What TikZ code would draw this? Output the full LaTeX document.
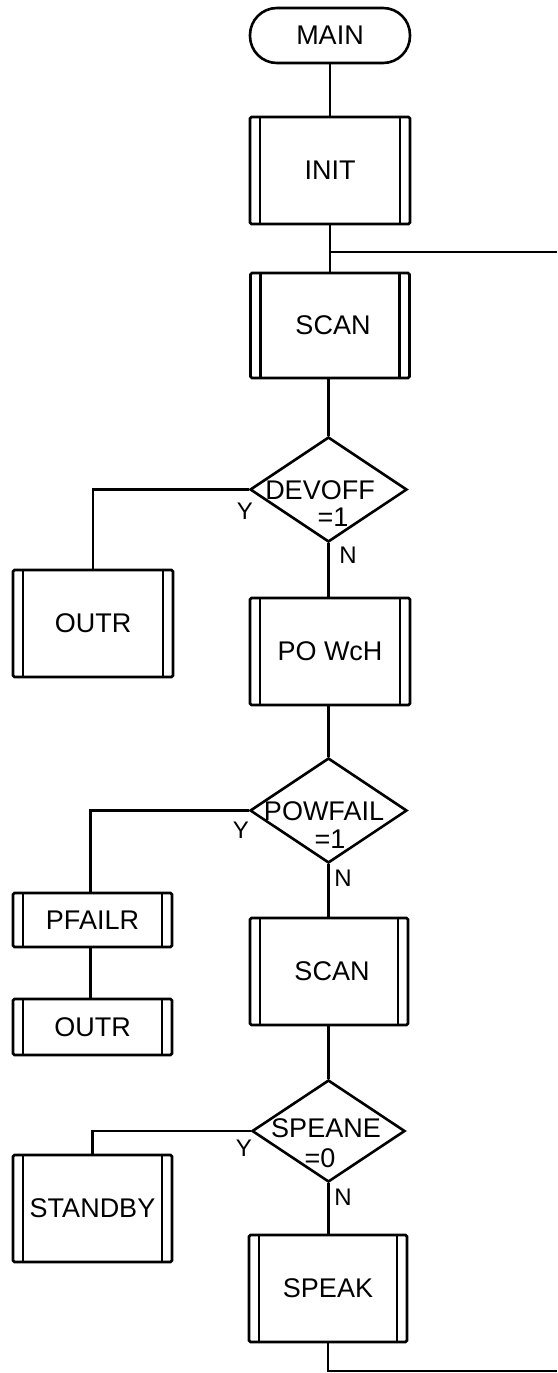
\documentclass[tikz,border=0pt]{standalone}
\usepackage{fontspec}
\setmainfont{Liberation Sans}
\usetikzlibrary{shapes.geometric}
\begin{document}
\begin{tikzpicture}[x=1pt,y=-1pt,
  line width=2.6pt,
  txt/.style={inner sep=0pt, font=\fontsize{27}{31}\selectfont},
  lbl/.style={inner sep=0pt, font=\fontsize{24}{28}\selectfont},
  proc/.style={draw, rectangle, rounded corners=1.5pt, inner sep=0pt,
    minimum width=159pt, minimum height=107pt,
    font=\fontsize{27}{31}\selectfont,
    path picture={
      \draw[line width=2.3pt] ([xshift=10pt]path picture bounding box.north west) -- ([xshift=10pt]path picture bounding box.south west);
      \draw[line width=2.3pt] ([xshift=-10pt]path picture bounding box.north east) -- ([xshift=-10pt]path picture bounding box.south east);}},
  term/.style={draw, rectangle, rounded corners=27pt, inner sep=0pt,
    minimum width=160pt, minimum height=55pt, font=\fontsize{27}{31}\selectfont},
  dec/.style={draw, diamond, inner sep=0pt, minimum width=157pt, minimum height=105pt}
]
\useasboundingbox (0,0) rectangle (557,1373);

% main column
\node[term] (main) at (330,35.5) {MAIN};
\node[proc, minimum width=160pt] (init) at (330,170.5) {INIT};
\node[proc, minimum height=105pt] (scan1) at (330,325.5) {\hspace{6pt}SCAN};
\node[dec] (d1) at (328.5,489.5) {};
\node[txt] (d1a) at (320,490) {DEVOFF};
\node[txt] (d1b) at (333,517) {=1};
\node[proc, minimum width=160pt] (powch) at (330,651.5) {PO WcH};
\node[dec] (d2) at (328.5,810.5) {};
\node[txt] (d2a) at (324,811) {POWFAIL};
\node[txt] (d2b) at (330,839) {=1};
\node[proc, minimum width=158pt] (scan2) at (329,971.5) {\hspace{6pt}SCAN};
\node[dec, minimum width=153pt, minimum height=102pt] (d3) at (328.5,1131) {};
\node[txt] (d3a) at (326,1128) {SPEANE};
\node[txt] (d3b) at (320,1158) {=0};
\node[proc, minimum width=158pt] (speak) at (328,1288.5) {SPEAK};

% left column
\node[proc, minimum width=160pt] (outr1) at (93,623.5) {OUTR};
\node[proc, minimum height=54pt] (pfailr) at (92.5,920) {PFAILR};
\node[proc, minimum height=56pt] (outr2) at (92.5,1027) {OUTR};
\node[proc] (standby) at (92.5,1208.5) {STANDBY};

% labels
\node[lbl] (y1) at (245,511) {Y};
\node[lbl] (n1) at (348,555) {N};
\node[lbl] (y2) at (241,830) {Y};
\node[lbl] (n2) at (343,878) {N};
\node[lbl] (y3) at (244,1148) {Y};
\node[lbl] (n3) at (343,1197) {N};

% loop coordinates
\coordinate (j1) at (330,252);
\coordinate (r1) at (557,252);
\coordinate (b1) at (328,1371);
\coordinate (r2) at (557,1371);

% connectors
\draw (main.south) -- (init.north);
\draw (init.south) -- (scan1.north);
\draw (j1) -- (r1);
\draw (scan1.south -| d1.north) -- (d1.north);
\draw (d1.south) -- (powch.north -| d1.south);
\draw (d1.west) -| (outr1.north);
\draw (powch.south -| d2.north) -- (d2.north);
\draw (d2.south) -- (scan2.north -| d2.south);
\draw (d2.west) -| ([xshift=-2pt]pfailr.north);
\draw ([xshift=-2pt]pfailr.south) -- ([xshift=-2pt]outr2.north);
\draw (scan2.south -| d3.north) -- (d3.north);
\draw (d3.south) -- (speak.north -| d3.south);
\draw (d3.west) -| (standby.north);
\draw (speak.south) -- (b1) -- (r2);
\end{tikzpicture}
\end{document}
